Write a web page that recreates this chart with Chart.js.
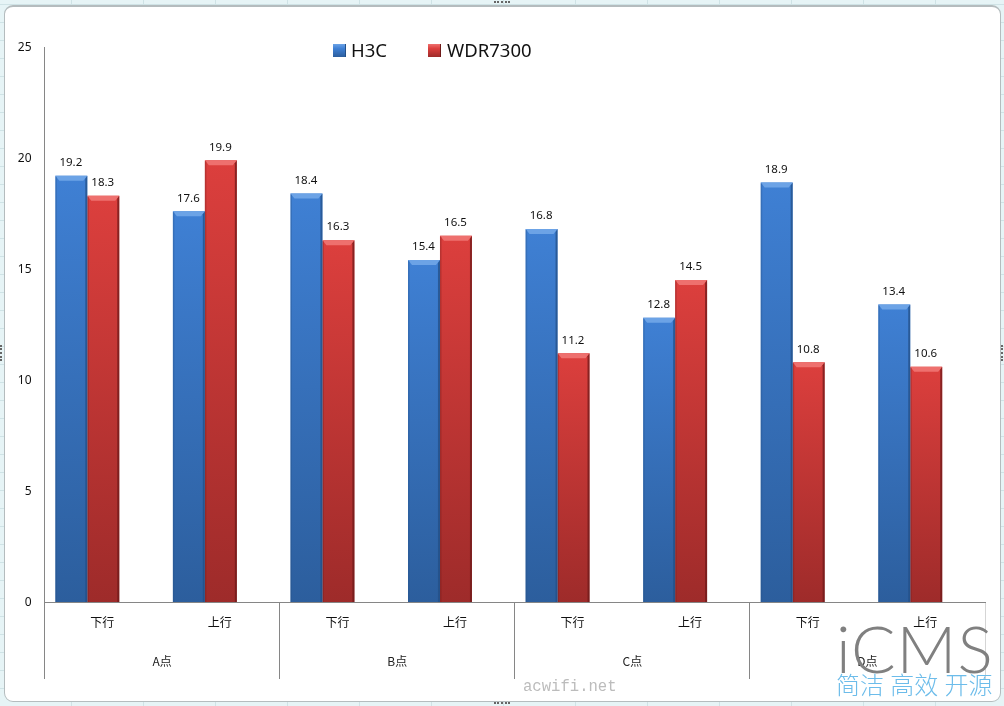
<!DOCTYPE html>
<html>
<head>
<meta charset="utf-8">
<title>H3C vs WDR7300</title>
<script src="https://cdn.jsdelivr.net/npm/chart.js@4"></script>
<style>
  html, body { margin: 0; padding: 0; }
  body {
    width: 1004px; height: 706px; position: relative; overflow: hidden;
    background-color: #e6f4f6;
    background-image:
      repeating-linear-gradient(90deg, transparent 0 71px, #cfe3e6 71px 72px),
      repeating-linear-gradient(0deg, transparent 0 17px, #cfe3e6 17px 18px);
    font-family: "Noto Sans", "Noto Sans CJK SC", sans-serif;
  }
  #frame {
    position: absolute; left: 4px; top: 5px; width: 995px; height: 694px;
    background: #fff; border: 1px solid #b4bcbe; border-top-width: 2px; border-radius: 9px;
  }
  canvas { position: absolute; left: 0; top: 0; }
  .handle { position: absolute; border-top: 2px dotted #666; width: 16px; height: 0; }
  .handle.v { border-top: none; border-left: 2px dotted #666; width: 0; height: 16px; }
  #legend { position: absolute; left: 333px; top: 36px; height: 27px; }
  #legend span { position: absolute; top: 0; font-size: 18.5px; line-height: 27px; color: #111; white-space: nowrap; }
  #legend i { position: absolute; top: 8px; width: 13px; height: 13px; box-sizing: border-box; }
  .mark { position: absolute; white-space: nowrap; }
  #icms { left: 836px; top: 608px; font: 300 66px/80px Lato, Roboto, sans-serif; color: #808080; letter-spacing: 1px; }
  #slogan { left: 836px; top: 666px; font: 300 24px/36px "Noto Sans CJK SC", sans-serif; color: #6cbcea; word-spacing: 1px; }
  #site { left: 523px; top: 677px; font: 15.6px/20px "Liberation Mono", monospace; color: #bcbcbc; }
</style>
</head>
<body>
<div id="frame"></div>
<div class="handle" style="left:494px;top:1px"></div>
<div class="handle" style="left:494px;top:702px"></div>
<div class="handle v" style="left:0;top:345px"></div>
<div class="handle v" style="left:1001px;top:345px"></div>
<canvas id="chart" width="1004" height="706"></canvas>
<div id="legend"></div>
<div class="mark" id="icms">iCMS</div>
<div class="mark" id="slogan">简洁 高效 开源</div>
<div class="mark" id="site">acwifi.net</div>

<script>
// =================== Data ===================

const categories = ['下行', '上行', '下行', '上行', '下行', '上行', '下行', '上行'];
const groups = ['A点', 'B点', 'C点', 'D点'];
const h3c = [19.2, 17.6, 18.4, 15.4, 16.8, 12.8, 18.9, 13.4];
const wdr7300 = [18.3, 19.9, 16.3, 16.5, 11.2, 14.5, 10.8, 10.6];
// the original sheet has an empty third series, which is why the bars sit left of their labels
const emptySeries = [null, null, null, null, null, null, null, null];
const yTicks = [0, 5, 10, 15, 20, 25];

// =================== Colours ===================

const AXIS_COLOR = '#868686';
const palette = {
  blue: { top: '#3f80d4', bottom: '#2c5e9d', cap: '#6ca3e6', edge: '#234f86' },
  red: { top: '#dc3f3d', bottom: '#9e2b2a', cap: '#ee706e', edge: '#6e1a19' }
};

// gradient for one bar, from its own top down to the axis
function barGradient(context, colors) {
  const { chart, parsed } = context;
  if (!chart.scales.y || !parsed) return colors.top;
  const top = chart.scales.y.getPixelForValue(parsed.y);
  const base = chart.scales.y.getPixelForValue(0);
  // scales are not laid out yet on the first resolve
  if (!isFinite(top) || !isFinite(base)) return colors.top;
  const g = chart.ctx.createLinearGradient(0, top, 0, base);
  g.addColorStop(0, colors.top);
  g.addColorStop(1, colors.bottom);
  return g;
}

// =================== Plugins ===================

// bevel on each bar, then the value above it
const barDecor = {
  id: 'barDecor',
  afterDatasetsDraw(chart) {
    const ctx = chart.ctx;
    chart.data.datasets.forEach((ds, i) => {
      if (!ds.colors) return;
      chart.getDatasetMeta(i).data.forEach((bar, k) => {
        const value = ds.data[k];
        if (value == null) return;
        const l = bar.x - bar.width / 2, r = bar.x + bar.width / 2;
        const t = bar.y, b = bar.base;
        ctx.save();
        ctx.fillStyle = ds.colors.cap;
        ctx.beginPath();
        ctx.moveTo(l, t); ctx.lineTo(r, t); ctx.lineTo(r - 4, t + 5); ctx.lineTo(l + 4, t + 5);
        ctx.closePath();
        ctx.fill();
        ctx.fillStyle = ds.colors.edge;
        ctx.globalAlpha = 0.75;
        ctx.beginPath();
        ctx.moveTo(r, t); ctx.lineTo(r, b); ctx.lineTo(r - 2, b); ctx.lineTo(r - 2, t + 3);
        ctx.closePath();
        ctx.fill();
        ctx.globalAlpha = 0.3;
        ctx.fillRect(l, t + 1, 1.5, b - t - 1);
        ctx.restore();

        ctx.save();
        ctx.fillStyle = '#111';
        ctx.font = '11.5px "Noto Sans", sans-serif';
        ctx.textAlign = 'center';
        ctx.textBaseline = 'middle';
        ctx.fillText(value.toFixed(1), bar.x - 0.5, t - 13);
        ctx.restore();
      });
    });
  }
};

// vertical separators under the axis, one for every pair of categories
const groupLines = {
  id: 'groupLines',
  afterDraw(chart) {
    const x = chart.scales.x, y = chart.scales.y;
    const band = x.width / categories.length;
    const ctx = chart.ctx;
    ctx.save();
    ctx.strokeStyle = AXIS_COLOR;
    ctx.lineWidth = 1;
    for (let i = 0; i <= categories.length; i += 2) {
      const px = Math.floor(x.left + band * i) + 0.5;
      if (i === categories.length) ctx.globalAlpha = 0.35;
      ctx.beginPath();
      ctx.moveTo(px, y.bottom);
      ctx.lineTo(px, 679);
      ctx.stroke();
    }
    ctx.restore();
  }
};

// =================== Chart ===================

new Chart(document.getElementById('chart'), {
  type: 'bar',
  data: {
    labels: categories,
    datasets: [
      { label: 'H3C', data: h3c, colors: palette.blue, backgroundColor: c => barGradient(c, palette.blue) },
      { label: 'WDR7300', data: wdr7300, colors: palette.red, backgroundColor: c => barGradient(c, palette.red) },
      { label: '', data: emptySeries }
    ]
  },
  options: {
    responsive: false,
    animation: false,
    layout: { padding: { top: 47, right: 19, bottom: 27, left: 0 } },
    datasets: { bar: { categoryPercentage: 0.816, barPercentage: 1 } },
    plugins: { legend: { display: false }, tooltip: { enabled: false } },
    scales: {
      x: {
        grid: { display: false, drawTicks: false },
        border: { color: AXIS_COLOR },
        ticks: { color: '#111', font: { size: 12, family: '"Noto Sans CJK SC"' }, padding: 13, labelOffset: -1, maxRotation: 0, autoSkip: false },
        afterFit(scale) { scale.height = 40; }
      },
      x2: {
        type: 'category',
        labels: groups,
        position: 'bottom',
        offset: true,
        grid: { display: false, drawTicks: false },
        border: { display: false },
        ticks: { color: '#222', font: { size: 12, family: '"Noto Sans CJK SC"' }, padding: 12, maxRotation: 0, autoSkip: false },
        afterFit(scale) { scale.height = 37; }
      },
      y: {
        min: 0,
        max: 25,
        afterBuildTicks(scale) { scale.ticks = yTicks.map(value => ({ value })); },
        grid: { display: false, drawTicks: false },
        border: { color: AXIS_COLOR },
        ticks: { color: '#111', font: { size: 12, family: '"Noto Sans"' }, padding: 13, labelOffset: 0.5 },
        afterFit(scale) { scale.width = 44.5; }
      }
    }
  },
  plugins: [barDecor, groupLines]
});

// =================== Legend ===================

const legendItems = [
  { name: 'H3C', colors: palette.blue, swatchX: 0, textX: 18 },
  { name: 'WDR7300', colors: palette.red, swatchX: 95, textX: 114 }
];
const legend = document.getElementById('legend');
legendItems.forEach(item => {
  const box = document.createElement('i');
  box.style.left = item.swatchX + 'px';
  box.style.background = `linear-gradient(${item.colors.cap}, ${item.colors.top} 35%, ${item.colors.bottom})`;
  box.style.borderRight = '1px solid ' + item.colors.edge;
  legend.appendChild(box);
  const text = document.createElement('span');
  text.style.left = item.textX + 'px';
  text.textContent = item.name;
  legend.appendChild(text);
});
</script>
</body>
</html>
